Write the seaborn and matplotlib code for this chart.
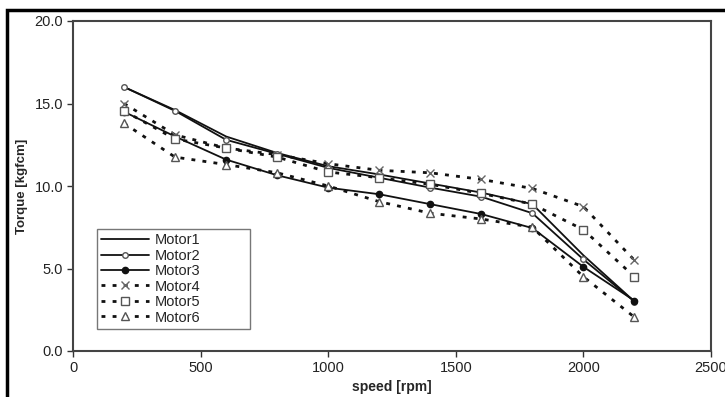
import matplotlib
matplotlib.use("Agg")
import matplotlib.pyplot as plt
import seaborn as sns
import pandas as pd
from matplotlib.patches import Rectangle

speed = [200, 400, 600, 800, 1000, 1200, 1400, 1600, 1800, 2000, 2200]
motor1 = [16.0, 14.6, 13.0, 12.0, 11.2, 10.7, 10.15, 9.6, 8.9, 5.8, 3.0]
motor2 = [16.0, 14.55, 12.8, 11.95, 11.1, 10.5, 9.9, 9.35, 8.35, 5.55, 3.0]
motor3 = [14.5, 13.0, 11.6, 10.65, 9.9, 9.5, 8.9, 8.3, 7.45, 5.1, 3.05]
motor4 = [15.0, 13.1, 12.3, 11.9, 11.35, 10.95, 10.8, 10.4, 9.85, 8.75, 5.5]
motor5 = [14.55, 12.85, 12.3, 11.75, 10.85, 10.5, 10.1, 9.55, 8.9, 7.35, 4.5]
motor6 = [13.8, 11.75, 11.3, 10.8, 10.0, 9.05, 8.35, 8.0, 7.5, 4.5, 2.05]
names = ["Motor1", "Motor2", "Motor3", "Motor4", "Motor5", "Motor6"]
series = [motor1, motor2, motor3, motor4, motor5, motor6]

sns.set_theme(style="white")
plt.rcParams["font.family"] = ["Liberation Sans", "DejaVu Sans"]

fig = plt.figure(figsize=(7.25, 3.97), dpi=100)
ax = fig.add_axes([73 / 725, 1 - 351 / 397, (711 - 73) / 725, (351 - 21) / 397])

dot = (0, (1.4, 2.6))
styles = {
    "Motor1": dict(color="#111111", linestyle="-", marker=None, lw=1.3),
    "Motor2": dict(color="#111111", linestyle="-", marker="o", mfc="white", mec="#555555", ms=4, lw=1.3),
    "Motor3": dict(color="#111111", linestyle="-", marker="o", mfc="#111111", mec="#111111", ms=4.5, lw=1.3),
    "Motor4": dict(color="#111111", linestyle=dot, marker="x", mfc="none", mec="#666666", ms=6, lw=2.0),
    "Motor5": dict(color="#111111", linestyle=dot, marker="s", mfc="white", mec="#555555", ms=6, lw=2.0),
    "Motor6": dict(color="#111111", linestyle=dot, marker="^", mfc="white", mec="#555555", ms=6, lw=2.0),
}

for name, vals in zip(names, series):
    st = styles[name]
    df = pd.DataFrame({"speed": speed, "torque": vals})
    kw = dict(color=st["color"], linestyle=st["linestyle"], linewidth=st["lw"])
    if st["marker"] is not None:
        kw.update(marker=st["marker"], markerfacecolor=st["mfc"], markeredgecolor=st["mec"],
                  markersize=st["ms"], markeredgewidth=1.0)
    sns.lineplot(data=df, x="speed", y="torque", ax=ax, label=name, **kw)

ax.set_xlim(0, 2500)
ax.set_ylim(0, 20)
ax.set_xticks([0, 500, 1000, 1500, 2000, 2500])
ax.set_yticks([0, 5, 10, 15, 20])
ax.set_yticklabels([f"{v:.1f}" for v in [0, 5, 10, 15, 20]])
ax.tick_params(axis="both", which="both", direction="out", length=4, width=1, color="#333333",
               labelsize=10.5, labelcolor="#222222", bottom=True, left=True, pad=3)
for s in ax.spines.values():
    s.set_color("#444444")
    s.set_linewidth(1.5)
ax.set_xlabel("speed [rpm]", fontsize=10, fontweight="bold", labelpad=4)
ax.set_ylabel("Torque [kgfcm]", fontsize=9.5, fontweight="bold", labelpad=5)

leg = ax.legend(loc="lower left", bbox_to_anchor=(0.037, 0.067, 0.24, 0.288), mode="expand",
                frameon=True, fancybox=False, edgecolor="#555555", fontsize=10.5,
                handlelength=3.3, borderpad=0.3, labelspacing=0.1, handletextpad=0.4,
                borderaxespad=0)
leg.get_frame().set_linewidth(1.0)

fig.add_artist(Rectangle((7 / 725, -0.05), 1.05, 1.05 - 10 / 397, transform=fig.transFigure,
                         fill=False, edgecolor="black", linewidth=2.5))

fig.savefig("out.png", dpi=100)
